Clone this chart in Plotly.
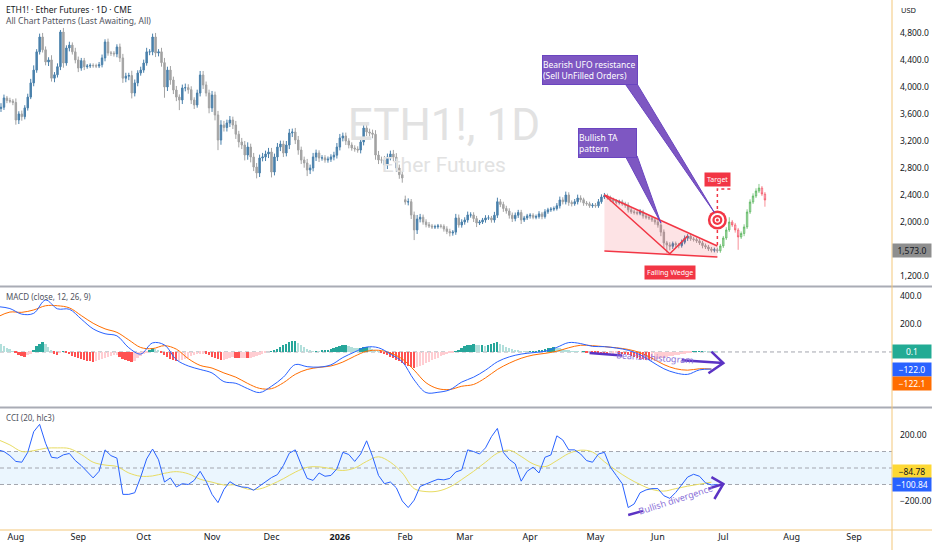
import pandas as pd
import plotly.graph_objects as go

# ETH1! daily closes, one per weekday from 2025-07-24 to 2026-06-29
closes = [
    3680, 3700, 3837, 3800, 3790, 3770,
    3511, 3600, 3560, 3690, 3850, 4060, 4250, 4520, 4740, 4550, 4370, 4400, 4130, 4180, 4300, 4814, 4355, 4577, 4620, 4520, 4400,
    4280, 4390, 4300, 4310, 4320, 4315, 4310, 4330, 4430, 4666, 4503, 4500, 4490, 4592, 4430, 4130, 4160, 4170, 3910, 4060, 4207, 4250,
    4355, 4520, 4520, 4740, 4503, 4520, 4360, 4000, 4250, 4103, 3955, 3850, 3807, 3985, 3990, 3960, 3807, 3733, 3910, 4177, 4030, 3910, 3690,
    3881, 3585, 3214, 3437, 3400, 3466, 3510, 3437, 3300, 3185, 3140, 2992, 3110, 2963, 2814, 2726, 2948, 2963, 3007, 3037,
    2740, 2963, 3110, 3155, 3022, 3140, 3318, 3333, 3214, 3066, 2918, 2874, 2770, 2800, 2963, 3022, 2948, 2950, 2918, 2930, 2963, 2990, 3110,
    3244, 3274, 3200, 3140, 3096, 3081, 3066, 3185, 3392, 3333, 3318, 3300, 2992, 2918, 2918, 2844, 2963, 3007, 2960, 2800, 2700, 2652,
    2296, 2300, 2104, 1882, 2044, 2070, 2000, 1960, 1941, 1926, 1930, 1941, 1935, 1897, 1860, 1837, 1850, 2060, 1956, 2000,
    2030, 2104, 2104, 2050, 1985, 2000, 2030, 2060, 2060, 2030, 2100, 2300, 2260, 2200, 2163, 2100, 2050, 2100, 2140, 2030, 2060, 2090,
    2100, 2070, 2080, 2120, 2080, 2150, 2180, 2190, 2200, 2240, 2326, 2300, 2400, 2290, 2270, 2300, 2355, 2330, 2280, 2270, 2240, 2250,
    2240, 2300, 2370, 2390, 2360, 2330, 2310, 2290, 2300, 2270, 2250, 2180, 2150, 2140, 2130, 2150, 2090, 2070, 2060, 2030, 2000,
    1956, 1850, 1690, 1660, 1640, 1680, 1660, 1650, 1700, 1760, 1790, 1750, 1740, 1720, 1690, 1650, 1630, 1600, 1580, 1590, 1573,
]
# wick length above / below the body
wick_hi = [
    40, 60, 50, 30, 40, 30,
    60, 40, 50, 40, 50, 60, 70, 40, 50, 60, 50, 40, 70, 40, 50, 30, 60, 40, 50, 40, 60,
    50, 40, 40, 30, 30, 30, 30, 40, 50, 40, 50, 30, 30, 40, 50, 60, 50, 40, 70, 50, 40, 50,
    50, 60, 40, 50, 60, 40, 60, 70, 50, 60, 50, 60, 40, 50, 60, 50, 50, 40, 50, 60, 60, 50, 50,
    60, 50, 60, 70, 60, 50, 60, 50, 60, 50, 60, 60, 70, 50, 60, 60, 50, 60, 50, 60,
    60, 50, 60, 50, 50, 60, 60, 50, 60, 60, 50, 50, 60, 50, 60, 50, 40, 40, 40, 40, 40, 50, 60,
    60, 50, 50, 40, 40, 40, 40, 60, 60, 60, 50, 50, 60, 60, 50, 60, 50, 50, 60, 60, 50, 60,
    60, 50, 40, 50, 60, 50, 40, 40, 40, 30, 30, 30, 30, 30, 40, 40, 30, 60, 50, 40,
    40, 50, 40, 40, 40, 30, 30, 40, 40, 30, 50, 60, 40, 40, 40, 40, 40, 40, 40, 40, 30, 30,
    30, 30, 30, 40, 30, 40, 30, 30, 30, 40, 50, 40, 50, 40, 30, 40, 50, 40, 30, 30, 30, 30,
    30, 40, 40, 40, 30, 30, 30, 30, 30, 30, 30, 40, 30, 30, 30, 40, 30, 30, 30, 30, 30,
    30, 40, 40, 30, 40, 30, 30, 30, 40, 40, 30, 30, 30, 30, 30, 30, 30, 30, 30, 30, 30,
]
wick_lo = [
    40, 50, 40, 40, 30, 40,
    70, 60, 60, 40, 40, 30, 50, 40, 40, 40, 50, 60, 50, 60, 40, 50, 70, 40, 50, 40, 50,
    60, 40, 50, 30, 30, 30, 30, 30, 40, 50, 40, 40, 40, 50, 60, 70, 60, 60, 80, 50, 50, 40,
    40, 40, 50, 50, 60, 50, 60, 160, 60, 70, 60, 60, 150, 60, 50, 60, 60, 60, 40, 50, 60, 50, 80,
    60, 80, 150, 70, 60, 60, 60, 60, 70, 80, 60, 80, 70, 80, 60, 80, 60, 50, 60, 60,
    80, 50, 60, 60, 60, 50, 60, 60, 60, 70, 60, 70, 90, 60, 50, 60, 60, 40, 40, 40, 40, 50, 50,
    50, 50, 60, 50, 40, 40, 40, 50, 50, 60, 50, 60, 70, 60, 50, 80, 60, 50, 60, 60, 60, 70,
    40, 50, 60, 150, 60, 50, 40, 40, 30, 30, 30, 30, 30, 40, 40, 50, 40, 40, 40, 40,
    40, 40, 40, 50, 60, 30, 30, 40, 30, 40, 40, 40, 40, 50, 40, 50, 50, 40, 40, 60, 30, 30,
    40, 30, 30, 30, 40, 30, 30, 30, 30, 30, 40, 40, 40, 50, 40, 30, 40, 40, 40, 30, 30, 30,
    30, 30, 30, 30, 30, 30, 30, 30, 30, 30, 40, 40, 30, 30, 30, 30, 40, 30, 30, 30, 40,
    40, 60, 80, 115, 60, 40, 40, 40, 30, 30, 40, 30, 30, 30, 30, 40, 30, 30, 30, 30, 30,
]
first_open = 3650
gap_opens = {"2026-02-02": 2330}

# projected path drawn by the pattern script (from 2026-06-30)
proj_close = [1645, 1763, 1882, 2000, 1956, 1882, 1778, 1830, 1926, 2148, 2296, 2385, 2459, 2503, 2414, 2326]
proj_hi = [30, 30, 40, 70, 30, 30, 30, 30, 40, 40, 40, 40, 40, 60, 30, 30]
proj_lo = [30, 30, 30, 30, 30, 40, 190, 30, 40, 30, 30, 30, 30, 30, 30, 100]

# MACD (12, 26, 9): lines every 4th bar, histogram every bar
macd_line = [324, 310, 270, 276, 371, 308, 305, 235, 165, 130, 115, 30, -15, 65, 50, -55, -100, -125, -150, -212,
             -224, -262, -290, -245, -180, -90, -105, -108, -92, -40, 0, 35, 30, -15, -70, -200, -290, -288, -270, -215,
             -180, -130, -70, -35, -15, -5, 5, 33, 67, 60, 40, 38, 28, 12, -20, -70, -120, -150, -160, -128, -122]
macd_signal = [252, 285, 283, 300, 330, 330, 315, 260, 205, 165, 140, 86, 32, 24, 45, 20, -48, -96, -115, -150,
               -180, -225, -260, -262, -220, -160, -125, -110, -100, -72, -30, 5, 12, -8, -50, -130, -220, -262, -268, -245,
               -232, -185, -125, -80, -45, -22, -10, 5, 30, 48, 45, 38, 30, 18, -5, -45, -90, -120, -130, -120, -122.1]
macd_hist = [
    65, 55, 42, 30, 18, 6,
    -10, -20, -30, -33, -25, -12,
    15, 40, 60, 74, 55, 35, 15,
    -12, -21, -8, 3,
    -8, -15, -28, -38,
    -45, -52, -58, -64, -68, -69, -66, -60,
    -52, -42, -35, -30, -25, -22,
    -35, -48, -60, -68, -75,
    -62, -45, -28, -12, -3,
    12, 26, 20, 8,
    -10, -25, -35, -48, -58, -64, -62,
    -55, -48, -40, -32, -25,
    -18, -14, -12, -14,
    -25, -35, -45, -52, -57, -55,
    -48, -42, -38, -42, -45, -42, -40,
    -44, -40, -35, -28, -20,
    -12, -5, 0,
    5, 10,
    22, 35, 48, 60, 70, 76, 79,
    65, 50, 35, 20, 10,
    5, 6, 5, 7, 8, 10,
    18, 25, 33, 40, 48, 50,
    42, 35, 28, 25,
    30, 35, 38, 32,
    20, 10, 2,
    -10, -18, -25, -35, -45, -55,
    -65, -80, -92, -100, -110, -117,
    -110, -100, -90, -80, -70, -60, -50, -40, -32, -25, -18, -10,
    -4, 2,
    15, 30, 40, 48, 52, 55,
    50,
    48, 50, 45, 52, 55,
    62, 69,
    58, 48, 38, 30, 22, 15, 10, 5,
    3, 2, 3, 5, 6, 8,
    14, 20, 26, 30, 33, 31,
    25, 20, 15, 10, 6, 3,
    2, 0, 1, -1, 0, -2,
    -8, -14, -18, -20, -21, -16, -12, -10, -12, -15, -18,
    -24, -30, -36, -42, -47, -52, -55, -57, -56, -52,
    -48, -44, -40, -36, -32, -28, -24, -20, -16, -12, -9, -6,
    2, 4, 5, 5, 4, 3, 2, 1, 0.1,
]

# CCI (20, hlc3) every 2nd bar, its moving average every 4th bar
cci = [110, 100, 75, 40, 35, 95, 220, 265, 150, 65, 60, 80, 88, 45, 15, -25, -60, -20, 110, 75,
       60, -160, -160, -150, -55, 55, 115, 50, -85, -60, -115, -95, -100, -75, -20, -80, -160, -210, -130, -83,
       -105, -115, -118, -135, -110, -83, -58, -40, 15, 90, 110, 20, -63, -75, -30, -50, -45, -5, 95, 82,
       40, 85, 165, 70, -45, -95, -85, -120, -200, -240, -195, -112, -95, -82, -68, -72, -63, -24, -12, 110,
       100, 85, 122, 190, 240, 95, 52, 25, -80, -20, 5, -30, 65, 79, 195, 170, 110, 110, 85, 45,
       35, 85, 95, 5, -45, -95, -240, -218, -150, -133, -125, -125, -168, -184, -148, -100, -55, -38, -50, -90,
       -103, -101]
cci_ma = [172, 140, 100, 105, 120, 122, 118, 82, 35, 18, 9, -30, -50, -48, -32, -22, -35, -68, -86, -103,
          -103, -128, -127, -100, -65, -25, 4, 7, -4, -15, 0, 40, 68, 35, -30, -125, -143, -140, -115, -70,
          -20, 35, 90, 108, 70, 25, 8, 45, 88, 108, 97, 38, -15, -62, -100, -130, -140, -125, -110, -98, -86]

month_ticks = ["2025-08-01", "2025-09-01", "2025-10-01", "2025-11-03", "2025-12-01", "2026-01-01", "2026-02-02",
               "2026-03-02", "2026-04-01", "2026-05-01", "2026-06-01", "2026-07-01", "2026-08-03", "2026-09-01"]
month_text = ["Aug", "Sep", "Oct", "Nov", "Dec", "<b>2026</b>", "Feb", "Mar", "Apr", "May", "Jun", "Jul", "Aug", "Sep"]
price_ticks = [1200, 2000, 2400, 2800, 3200, 3600, 4000, 4400, 4800]

# falling wedge drawn by the pattern script
wedge_x = ["2026-05-06", "2026-06-29", "2026-06-29", "2026-05-06"]
wedge_y = [2400, 1645, 1482, 1570]
zig_x = ["2026-05-06", "2026-06-05", "2026-06-15"]
zig_y = [2400, 1530, 1793]

UP = "#4a80ab"
DOWN = "#a3a3a3"
PURPLE = "#7e57c2"
ARROW = "#5b33c4"
RED = "#f23645"

days = pd.bdate_range("2025-07-24", periods=len(closes))
opens = [first_open] + closes[:-1]
for d, o in gap_opens.items():
    opens[list(days.strftime("%Y-%m-%d")).index(d)] = o
highs = [max(o, c) + w for o, c, w in zip(opens, closes, wick_hi)]
lows = [min(o, c) - w for o, c, w in zip(opens, closes, wick_lo)]

pdays = pd.bdate_range("2026-06-30", periods=len(proj_close))
popen = [closes[-1]] + proj_close[:-1]
phigh = [max(o, c) + w for o, c, w in zip(popen, proj_close, proj_hi)]
plow = [min(o, c) - w for o, c, w in zip(popen, proj_close, proj_lo)]

hist_colors = []
for i, h in enumerate(macd_hist):
    prev = macd_hist[i - 1] if i else h
    if h >= 0:
        hist_colors.append("#26a69a" if h >= prev else "#b2dfdb")
    else:
        hist_colors.append("#ff5252" if h <= prev else "#ffcdd2")

fig = go.Figure()

# watermark (drawn first so it sits under the candles)
fig.add_trace(go.Scatter(x=["2026-02-19"], y=[3377], mode="text", text=["ETH1!, 1D"],
                         textfont=dict(size=44, color="#e2e2e2", family="Roboto"), hoverinfo="skip"))
fig.add_trace(go.Scatter(x=["2026-02-19"], y=[2815], mode="text", text=["Ether Futures"],
                         textfont=dict(size=21, color="#e2e2e2", family="Roboto"), hoverinfo="skip"))

fig.add_trace(go.Scatter(x=wedge_x + wedge_x[:1], y=wedge_y + wedge_y[:1], mode="lines", fill="toself",
                         fillcolor="rgba(242,54,69,0.14)", line=dict(width=0), hoverinfo="skip"))

fig.add_trace(go.Candlestick(
    x=days, open=opens, high=highs, low=lows, close=closes, whiskerwidth=0,
    increasing=dict(line=dict(color=UP, width=1), fillcolor=UP),
    decreasing=dict(line=dict(color=DOWN, width=1), fillcolor=DOWN)))

fig.add_trace(go.Scatter(
    x=[wedge_x[0], wedge_x[1], None, wedge_x[3], wedge_x[2], None] + zig_x,
    y=[wedge_y[0], wedge_y[1], None, wedge_y[3], wedge_y[2], None] + zig_y,
    mode="lines", line=dict(color=RED, width=1.5), hoverinfo="skip"))

fig.add_trace(go.Candlestick(
    x=pdays, open=popen, high=phigh, low=plow, close=proj_close, whiskerwidth=0,
    increasing=dict(line=dict(color="rgba(76,175,80,0.65)", width=1), fillcolor="rgba(129,199,132,0.65)"),
    decreasing=dict(line=dict(color="rgba(242,54,69,0.55)", width=1), fillcolor="rgba(244,143,177,0.6)")))

# target marker
fig.add_trace(go.Scatter(x=["2026-06-29", "2026-06-29", "2026-07-06"], y=[1659, 2489, 2489], mode="lines",
                         line=dict(color=RED, width=1.5, dash="dot"), hoverinfo="skip"))
for size, col in [(19, RED), (14, "white"), (10, RED), (5.5, "white"), (3, RED)]:
    fig.add_trace(go.Scatter(x=["2026-06-29"], y=[2030], mode="markers",
                             marker=dict(size=size, color=col, line=dict(width=0)), hoverinfo="skip"))

# callout tails
tails = [
    (["2026-05-15", "2026-05-21", "2026-06-26"], [4044, 4044, 2140]),
    (["2026-05-15", "2026-05-21", "2026-06-02"], [2978, 2978, 1985]),
]
for tx, ty in tails:
    fig.add_trace(go.Scatter(x=tx + tx[:1], y=ty + ty[:1], mode="lines", fill="toself", fillcolor=PURPLE,
                             line=dict(color="#6a45c0", width=1), hoverinfo="skip"))

# MACD panel
fig.add_trace(go.Bar(x=days[:len(macd_hist)], y=macd_hist, marker=dict(color=hist_colors, line=dict(width=0)),
                     width=0.62 * 86400000, yaxis="y2"))
mx = days[::4][:len(macd_line)]
fig.add_trace(go.Scatter(x=mx, y=macd_signal, mode="lines", line=dict(color="#ff6d00", width=1, shape="spline"),
                         yaxis="y2", hoverinfo="skip"))
fig.add_trace(go.Scatter(x=mx, y=macd_line, mode="lines", line=dict(color="#2962ff", width=1, shape="spline"),
                         yaxis="y2", hoverinfo="skip"))
fig.add_trace(go.Scatter(x=["2026-04-29", "2026-05-14", None, "2026-06-11", "2026-07-01", None,
                            "2026-06-25", "2026-07-01", "2026-06-24"],
                         y=[-7, -26, None, -59, -79, None, 2, -79, -152],
                         mode="lines", line=dict(color=ARROW, width=2.5), yaxis="y2", hoverinfo="skip"))

# CCI panel
fig.add_trace(go.Scatter(x=days[::4][:len(cci_ma)], y=cci_ma, mode="lines",
                         line=dict(color="#e8dc62", width=1, shape="spline"), yaxis="y3", hoverinfo="skip"))
fig.add_trace(go.Scatter(x=days[::2][:len(cci)], y=cci, mode="lines", line=dict(color="#2962ff", width=1),
                         yaxis="y3", hoverinfo="skip"))
fig.add_trace(go.Scatter(x=["2026-05-18", "2026-05-25", None, "2026-06-24", "2026-07-01", None,
                            "2026-06-25", "2026-07-01", "2026-06-26"],
                         y=[-285, -260, None, -125, -97, None, -55, -97, -188],
                         mode="lines", line=dict(color=ARROW, width=2.5), yaxis="y3", hoverinfo="skip"))

shapes = [
    dict(type="rect", xref="paper", x0=0, x1=1, yref="y3", y0=-100, y1=100,
         fillcolor="rgba(33,150,243,0.09)", line=dict(width=0), layer="below"),
]
for yr, v in [("y3", 100), ("y3", 0), ("y3", -100), ("y2", 0)]:
    shapes.append(dict(type="line", xref="paper", x0=0, x1=1, yref=yr, y0=v, y1=v,
                       line=dict(color="#a3a6af", width=1, dash="4px,3px"), layer="below"))
for yp in [0.4594, 0.2311]:
    shapes.append(dict(type="line", xref="paper", x0=0, x1=1.045, yref="paper", y0=yp, y1=yp,
                       line=dict(color="#a9acb5", width=2)))
shapes.append(dict(type="line", xref="paper", x0=1, x1=1, yref="paper", y0=-0.04, y1=1,
                   line=dict(color="#f3c77a", width=1)))
shapes.append(dict(type="line", xref="paper", x0=0, x1=1.045, yref="paper", y0=0, y1=0,
                   line=dict(color="#f3c77a", width=1)))

txt = dict(family="Noto Sans", size=8.5, color="#131722")
annotations = [
    dict(xref="paper", yref="paper", x=0, y=1, xshift=4, yshift=-9, xanchor="left", yanchor="middle",
         text="ETH1! · Ether Futures · 1D · CME", showarrow=False, font=dict(txt, color="#131722")),
    dict(xref="paper", yref="paper", x=0, y=1, xshift=4, yshift=-20, xanchor="left", yanchor="middle",
         text="All Chart Patterns (Last Awaiting, All)", showarrow=False, font=dict(txt, color="#50535e")),
    dict(xref="paper", yref="paper", x=0, y=0.4585, xshift=4, yshift=-10, xanchor="left", yanchor="middle",
         text="MACD (close, 12, 26, 9)", showarrow=False, font=dict(txt, size=8, color="#50535e")),
    dict(xref="paper", yref="paper", x=0, y=0.2302, xshift=4, yshift=-10, xanchor="left", yanchor="middle",
         text="CCI (20, hlc3)", showarrow=False, font=dict(txt, size=8, color="#50535e")),
    dict(xref="paper", yref="paper", x=1, y=1, xshift=7, yshift=-10, xanchor="left", yanchor="middle",
         text="USD", showarrow=False, font=dict(txt, size=7.5)),
    # callouts
    dict(x="2026-04-29", y=4251, text="Bearish UFO resistance<br>(Sell UnFilled Orders)", showarrow=False,
         align="left", bgcolor=PURPLE, bordercolor="#6a45c0", borderwidth=1, borderpad=0, width=94, height=28,
         font=dict(family="Noto Sans", size=8.5, color="white")),
    dict(x="2026-05-07", y=3170, text="Bullish TA<br>pattern", showarrow=False,
         align="left", bgcolor=PURPLE, bordercolor="#6a45c0", borderwidth=1, borderpad=0, width=57, height=28,
         font=dict(family="Noto Sans", size=8.5, color="white")),
    dict(x="2026-06-05", y=1252, text="Falling Wedge", showarrow=False, bgcolor=RED, borderpad=2,
         font=dict(family="Noto Sans", size=7, color="white")),
    dict(x="2026-06-29", y=2622, text="Target", showarrow=False, bgcolor=RED, borderpad=2,
         font=dict(family="Noto Sans", size=7, color="white")),
    dict(x="2026-05-29", y=-43, yref="y2", text="Bearish histogram", showarrow=False, textangle=4,
         font=dict(family="Noto Sans", size=9, color="#8a6fd8")),
    dict(x="2026-06-09", y=-194, yref="y3", text="Bullish divergence", showarrow=False, textangle=-18,
         font=dict(family="Noto Sans", size=9, color="#8a6fd8")),
]
value_tags = [
    ("y", 1573, "1,573.0", "#8e8e8e", "#131722", 0),
    ("y2", 0.1, "0.1", "#22ab94", "white", 0),
    ("y2", -122.0, "−122.0", "#2962ff", "white", 0),
    ("y2", -122.1, "−122.1", "#ff6d00", "white", -14),
    ("y3", -84.78, "−84.78", "#fdd835", "#131722", 10),
    ("y3", -100.84, "−100.84", "#2962ff", "white", 0),
]
for yr, v, label, bg, fg, shift in value_tags:
    annotations.append(dict(xref="paper", yref=yr, x=1, y=v, yshift=shift, xanchor="left", yanchor="middle",
                            text=label, showarrow=False, bgcolor=bg, width=36, height=11, borderpad=1,
                            align="center", font=dict(family="Noto Sans", size=8.5, color=fg)))

axis_font = dict(family="Noto Sans", size=8.5, color="#131722")
fig.update_layout(
    width=932, height=550,
    margin=dict(l=0, r=40, t=0, b=20),
    paper_bgcolor="white", plot_bgcolor="white",
    showlegend=False, hovermode=False,
    font=dict(family="Noto Sans", size=9, color="#131722"),
    bargap=0,
    xaxis=dict(type="date", anchor="y3", rangebreaks=[dict(bounds=["sat", "mon"])],
               range=["2025-07-24 16:00", "2026-09-17 18:00"], tickmode="array", tickvals=month_ticks,
               ticktext=month_text, showgrid=False, zeroline=False, showline=False, ticks="",
               tickfont=dict(axis_font, size=9), rangeslider=dict(visible=False)),
    yaxis=dict(domain=[0.4604, 1], side="right", anchor="x", range=[1052, 5288], tickmode="array",
               tickvals=price_ticks, tickformat=",.1f", showgrid=False, zeroline=False, ticks="",
               ticklabelstandoff=7, tickfont=axis_font),
    yaxis2=dict(domain=[0.2321, 0.4585], side="right", anchor="x", range=[-393, 464], tickmode="array",
                tickvals=[200, 400], tickformat=".1f", showgrid=False, zeroline=False, ticks="",
                ticklabelstandoff=7, tickfont=axis_font),
    yaxis3=dict(domain=[0, 0.2302], side="right", anchor="x", range=[-376, 364], tickmode="array",
                tickvals=[-200, 200], tickformat=".2f", showgrid=False, zeroline=False, ticks="",
                ticklabelstandoff=7, tickfont=axis_font),
    shapes=shapes,
    annotations=annotations,
)

fig.write_html("out.html", config={"displayModeBar": False},
               post_script="document.body.style.margin='0';")
